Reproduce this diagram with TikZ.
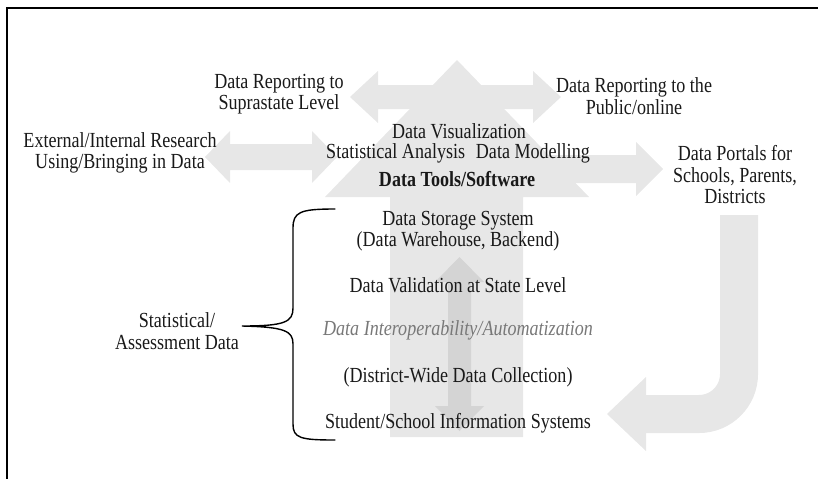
\documentclass[tikz,border=0pt]{standalone}
\usepackage{fontspec}
\setmainfont[FakeStretch=0.84]{Liberation Serif}
\definecolor{lg}{RGB}{231,231,231}
\definecolor{dg}{RGB}{212,212,212}
\definecolor{txt}{RGB}{25,25,25}
\definecolor{itx}{RGB}{120,120,120}
\begin{document}
\begin{tikzpicture}[x=1pt,y=-1pt,
  lbl/.style={font=\fontsize{21.5}{21.5}\selectfont, align=center, inner sep=0pt, text=txt}]
\useasboundingbox (0,0) rectangle (818,479);
\draw[line width=2pt] (818,8) -- (7,8) -- (7,479);
% big up arrow
\fill[lg] (390,437) -- (390,197) -- (325,197) -- (457,60) -- (589,197) -- (523,197) -- (523,437) -- cycle;
% top double arrow
\fill[lg] (350,97) -- (378,71) -- (378,85) -- (533,85) -- (533,71) -- (561,97) -- (533,123) -- (533,109) -- (378,109) -- (378,123) -- cycle;
% left double arrow
\fill[lg] (205,157) -- (230,131) -- (230,144) -- (312,144) -- (312,131) -- (337,157) -- (312,183) -- (312,170) -- (230,170) -- (230,183) -- cycle;
% right arrow
\fill[lg] (450,155) -- (636,155) -- (636,142) -- (663,169) -- (636,196) -- (636,183) -- (450,183) -- cycle;
% J arrow
\draw[lg, line width=38pt, rounded corners=40pt] (739,215) -- (739,414) -- (645,414);
\fill[lg] (646,377) -- (607,414) -- (646,451) -- cycle;
% inner double arrow
\fill[dg] (459.5,257) -- (484,282) -- (471,282) -- (471,406) -- (484,406) -- (459.5,431) -- (435,406) -- (448,406) -- (448,282) -- (435,282) -- cycle;
% brace
\draw[line width=1.4pt, line cap=round] (335,209) .. controls (300,209) and (293,212) .. (293,228) -- (293,308) .. controls (293,322) and (285,326) .. (242,326) .. controls (285,327) and (293,331) .. (293,344) -- (293,424) .. controls (293,438) and (300,440) .. (335,440);
% texts
\node[lbl] (sup) at (279,94) {Data Reporting to\\Suprastate Level};
\node[lbl] (pub) at (634,96) {Data Reporting to the\\Public/online};
\node[lbl] (ext) at (120,153) {External/Internal Research\\Using/Bringing in Data};
\node[lbl] (vis) at (459,131) {Data Visualization};
\node[lbl] (stat) at (458,153) {Statistical Analysis\enspace Data Modelling};
\node[lbl, font=\fontsize{21.5}{21.5}\selectfont\bfseries] (tools) at (457,179) {Data Tools/Software};
\node[lbl] (portal) at (735,175) {Data Portals for\\Schools, Parents,\\Districts};
\node[lbl] (storage) at (458,231) {Data Storage System\\(Data Warehouse, Backend)};
\node[lbl] (valid) at (458,285) {Data Validation at State Level};
\node[lbl, text=itx, font=\fontsize{21.5}{21.5}\selectfont\itshape] (interop) at (458,330) {Data Interoperability/Automatization};
\node[lbl] (district) at (458,377) {(District-Wide Data Collection)};
\node[lbl] (sis) at (458,423) {Student/School Information Systems};
\node[lbl] (stass) at (177,331) {Statistical/\\Assessment Data};
\end{tikzpicture}
\end{document}
